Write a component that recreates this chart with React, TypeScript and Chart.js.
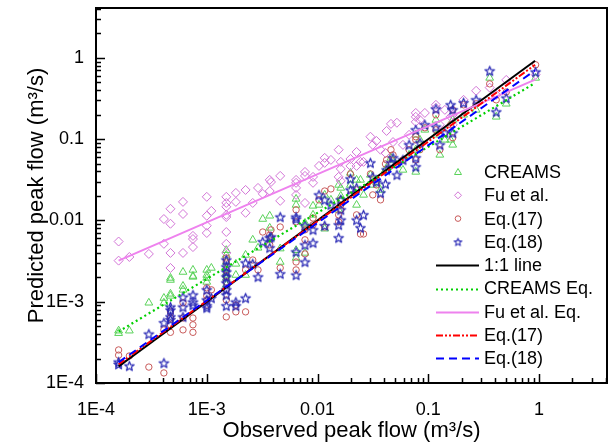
import React, { useEffect, useRef } from 'react';
import { Chart, registerables } from 'chart.js';

Chart.register(...registerables);

// Observed peak flow (m3/s) shared by the four predicted series
const observed = [
  1.6e-4, 1.6e-4, 2.0e-4, 3.0e-4, 4.1e-4, 4.1e-4, 4.7e-4, 4.7e-4, 4.7e-4, 4.7e-4,
  6.1e-4, 6.1e-4, 6.1e-4, 7.5e-4, 7.5e-4, 7.5e-4, 1.0e-3, 1.0e-3, 1.0e-3, 1.0e-3,
  1.1e-3, 1.5e-3, 1.5e-3, 1.5e-3, 1.5e-3, 1.5e-3, 1.5e-3, 1.5e-3, 1.5e-3, 1.83e-3,
  1.83e-3, 2.24e-3, 2.24e-3, 2.6e-3, 2.9e-3, 3.2e-3, 3.7e-3, 3.7e-3, 3.8e-3, 4.6e-3,
  4.6e-3, 6.4e-3, 6.4e-3, 6.4e-3, 6.4e-3, 7.7e-3, 7.7e-3, 7.7e-3, 9.1e-3, 9.1e-3,
  1.03e-2, 1.16e-2, 1.16e-2, 1.32e-2, 1.55e-2, 1.55e-2, 1.62e-2, 1.62e-2, 1.62e-2, 1.98e-2,
  1.98e-2, 2.25e-2, 2.25e-2, 2.44e-2, 2.6e-2, 3.0e-2, 3.15e-2, 3.4e-2, 3.7e-2, 4.1e-2,
  4.2e-2, 4.6e-2, 4.8e-2, 5.2e-2, 5.9e-2, 6.7e-2, 7.7e-2, 7.7e-2, 7.7e-2, 8.4e-2,
  9.3e-2, 0.117, 0.117, 0.127, 0.141, 0.159, 0.166, 0.166, 0.208, 0.27,
  0.358, 0.41, 0.505, 0.93,
];

const creams = [
  4.4e-4, 4.1e-4, 4.4e-4, 9.7e-4, 9.7e-4, 1.11e-3, 1.25e-3, 1.85e-3, 1.96e-3, 1.18e-3,
  1.56e-3, 2.32e-3, 1.4e-3, 2.46e-3, 2.02e-3, 2.07e-3, 1.96e-3, 1.75e-3, 2.46e-3, 2.13e-3,
  2.6e-3, 4.3e-3, 3.76e-3, 3.08e-3, 2.6e-3, 2.26e-3, 2.13e-3, 1.96e-3, 1.61e-3, 2.92e-3,
  2.13e-3, 3.76e-3, 2.13e-3, 5.77e-3, 4.6e-3, 1.04e-2, 1.14e-2, 8.1e-3, 6.1e-3, 4.5e-3,
  3.08e-3, 1.84e-2, 3.45e-3, 4.3e-3, 1.55e-2, 9.3e-3, 3.98e-3, 8.8e-3, 1.51e-2, 1.17e-2,
  1.55e-2, 7.9e-3, 2.06e-2, 1.79e-2, 2.73e-2, 1.35e-2, 2.51e-2, 2.0e-2, 1.79e-2, 3.84e-2,
  2.73e-2, 1.55e-2, 3.15e-2, 3.15e-2, 2.06e-2, 3.63e-2, 2.73e-2, 2.97e-2, 2.37e-2, 4.18e-2,
  4.43e-2, 5.88e-2, 5.55e-2, 4.83e-2, 4.18e-2, 6.4e-2, 3.95e-2, 7.4e-2, 0.113, 9.8e-2,
  0.13, 0.172, 0.113, 6.4e-2, 9.8e-2, 9.8e-2, 0.172, 8.5e-2, 0.199, 0.229,
  0.566, 0.188, 0.272, 0.566,
];

const fuEtAl = [
  5.5e-3, 3.2e-3, 3.55e-3, 3.87e-3, 1.04e-2, 5.15e-3, 1.39e-2, 9.1e-3, 3.98e-3, 2.6e-3,
  1.69e-2, 1.2e-2, 3.98e-3, 6.45e-3, 5.9e-3, 4.7e-3, 1.95e-2, 1.14e-2, 8.6e-3, 7.0e-3,
  1.31e-2, 1.95e-2, 1.64e-2, 1.47e-2, 1.17e-2, 1.1e-2, 7.2e-3, 5.15e-3, 3.98e-3, 2.18e-2,
  1.69e-2, 2.37e-2, 1.24e-2, 1.64e-2, 2.51e-2, 2.12e-2, 3.15e-2, 2.3e-2, 2.97e-2, 3.53e-2,
  1.74e-2, 3.15e-2, 2.51e-2, 2.06e-2, 2.9e-2, 3.95e-2, 3.53e-2, 1.64e-2, 3.43e-2, 2.9e-2,
  4.68e-2, 5.88e-2, 5.1e-2, 5.55e-2, 7.4e-2, 3.43e-2, 5.25e-2, 4.3e-2, 3.06e-2, 5.7e-2,
  4.68e-2, 4.68e-2, 6.95e-2, 5.25e-2, 5.25e-2, 0.107, 8.5e-2, 9.5e-2, 7.4e-2, 6.75e-2,
  0.126, 0.154, 9.2e-2, 0.159, 8.5e-2, 0.113, 0.21, 0.163, 0.188, 0.172,
  0.21, 0.264, 0.242, 0.15, 0.229, 0.188, 0.199, 0.15, 0.304, 0.393,
  0.43, 0.35, 0.535, 0.62,
];

const eq17 = [
  2.2e-4, 2.55e-4, 2.15e-4, 1.57e-4, 1.33e-4, 4.5e-4, 6.3e-4, 5.2e-4, 7.5e-4, 4.2e-4,
  9.7e-4, 6.3e-4, 4.5e-4, 6.3e-4, 5.2e-4, 4.2e-4, 1.48e-3, 1.18e-3, 1.05e-3, 9.1e-4,
  1.4e-3, 3.45e-3, 3.08e-3, 2.46e-3, 2.07e-3, 1.75e-3, 1.4e-3, 1.05e-3, 6.5e-4, 7.5e-4,
  9.1e-4, 7.5e-4, 2.46e-3, 3.26e-3, 2.46e-3, 7.2e-3, 6.6e-3, 5.0e-3, 7.65e-3, 8.3e-3,
  2.6e-3, 1.35e-2, 2.46e-3, 3.08e-3, 9.6e-3, 5.77e-3, 3.87e-3, 7.65e-3, 1.07e-2, 8.8e-3,
  1.79e-2, 2.3e-2, 8.3e-3, 2.44e-2, 1.17e-2, 9.6e-3, 1.79e-2, 1.55e-2, 1.35e-2, 3.73e-2,
  2.06e-2, 1.17e-2, 2.37e-2, 6.8e-3, 6.8e-3, 3.73e-2, 2.06e-2, 2.73e-2, 1.79e-2, 4.95e-2,
  5.55e-2, 7.4e-2, 6.4e-2, 4.83e-2, 5.55e-2, 7.4e-2, 0.107, 5.55e-2, 9.8e-2, 7.4e-2,
  0.138, 0.199, 0.13, 7.4e-2, 0.119, 0.15, 0.229, 0.104, 0.264, 0.272,
  0.478, 0.304, 0.38, 0.82,
];

const eq18 = [
  1.7e-4, 1.81e-4, 1.62e-4, 4.0e-4, 1.76e-4, 5.5e-4, 8.6e-4, 6.5e-4, 7.9e-4, 6.0e-4,
  1.14e-3, 8.6e-4, 6.5e-4, 1.21e-3, 9.9e-4, 9.1e-4, 8.9e-4, 8.4e-4, 1.4e-3, 1.05e-3,
  1.11e-3, 3.26e-3, 2.68e-3, 2.32e-3, 2.02e-3, 1.7e-3, 1.4e-3, 8.9e-4, 1.21e-3, 9.9e-4,
  8.9e-4, 1.11e-3, 3.0e-3, 2.92e-3, 2.02e-3, 5.46e-3, 6.1e-3, 4.6e-3, 6.27e-3, 1.1e-2,
  2.2e-3, 1.1e-2, 4.1e-3, 2.13e-3, 1.04e-2, 3.08e-3, 5.0e-3, 8.6e-3, 5.3e-3, 7.65e-3,
  2.06e-2, 1.79e-2, 8.6e-3, 1.55e-2, 6.1e-3, 8.8e-3, 1.79e-2, 1.35e-2, 1.01e-2, 3.24e-2,
  2.37e-2, 1.01e-2, 2.51e-2, 8.1e-3, 1.17e-2, 5.1e-2, 3.43e-2, 2.97e-2, 2.18e-2, 2.81e-2,
  4.18e-2, 5.1e-2, 5.88e-2, 3.63e-2, 5.55e-2, 8.5e-2, 5.88e-2, 4.56e-2, 0.13, 9.0e-2,
  0.15, 0.235, 0.141, 8.5e-2, 0.119, 0.264, 0.229, 0.119, 0.28, 0.304,
  0.69, 0.216, 0.32, 0.67,
];

// Fitted lines: end points (observed, predicted)
const lineX = [1.6e-4, 0.92];
const oneToOneY = [1.6e-4, 0.92];
const creamsEqY = [4.3e-4, 0.49];
const fuEqY = [3.2e-3, 0.54];
const eq17LineY = [1.7e-4, 0.82];
const eq18LineY = [1.8e-4, 0.7];

// Axes
const axisMin = 1e-4;
const axisMax = 4.1;
const majorTicks = [1e-4, 1e-3, 0.01, 0.1, 1];
const majorLabels = ['1E-4', '1E-3', '0.01', '0.1', '1'];
const xTitle = 'Observed peak flow (m\u00B3/s)';
const yTitle = 'Predicted peak flow (m\u00B3/s)';

const legendLabels = [
  'CREAMS', 'Fu et al.', 'Eq.(17)', 'Eq.(18)',
  '1:1 line', 'CREAMS Eq.', 'Fu et al. Eq.', 'Eq.(17)', 'Eq.(18)',
];

const FONT = '"Liberation Sans", Arial, Helvetica, sans-serif';
const creamsColor = '#5ad25a';
const fuColor = '#d274d6';
const eq17Color = '#c85a5a';
const eq18Color = '#2626b4';
const lineStyles = [
  { color: '#000000', dash: [] as number[], width: 2 },
  { color: '#00d000', dash: [2, 3], width: 2.2 },
  { color: '#ee82ee', dash: [] as number[], width: 2 },
  { color: '#ff0000', dash: [7, 2, 2, 2, 2, 2], width: 2 },
  { color: '#0000ff', dash: [8, 5], width: 2 },
];

function makeStar(color: string, outer: number, inner: number, lw: number): HTMLCanvasElement {
  const size = Math.ceil(outer * 2 + 3);
  const s = document.createElement('canvas');
  s.width = size;
  s.height = size;
  const c = s.getContext('2d')!;
  c.strokeStyle = color;
  c.lineWidth = lw;
  c.lineJoin = 'round';
  c.beginPath();
  for (let k = 0; k < 10; k++) {
    const r = k % 2 === 0 ? outer : inner;
    const a = -Math.PI / 2 + (k * Math.PI) / 5;
    const px = size / 2 + r * Math.cos(a);
    const py = size / 2 + 0.4 + r * Math.sin(a);
    if (k === 0) c.moveTo(px, py);
    else c.lineTo(px, py);
  }
  c.closePath();
  c.stroke();
  return s;
}

function isMajor(v: number) {
  return majorTicks.findIndex((m) => Math.abs(m - v) / m < 1e-6);
}

function buildLogTicks(scale: any) {
  const t: { value: number }[] = [];
  for (let e = -4; e <= 0; e++) {
    for (let m = 1; m <= 9; m++) {
      const v = m * Math.pow(10, e);
      if (v >= axisMin * 0.9999 && v <= axisMax * 1.0001) t.push({ value: v });
    }
  }
  scale.ticks = t;
}

export default function App() {
  const ref = useRef<HTMLCanvasElement>(null);

  useEffect(() => {
    const canvas = ref.current!;
    const star = makeStar(eq18Color, 5, 2.1, 1.2);
    const legendStar = makeStar(eq18Color, 4, 1.7, 1.1);

    const pts = (ys: number[]) => observed.map((x, i) => ({ x, y: ys[i] }));
    const seg = (ys: number[]) => lineX.map((x, i) => ({ x, y: ys[i] }));

    const decor = {
      id: 'decor',
      afterDraw(chart: any) {
        const { ctx, chartArea } = chart;
        const { left, right, top, bottom } = chartArea;
        const xs = chart.scales.x;
        const ys = chart.scales.y;
        ctx.save();
        ctx.strokeStyle = '#000';
        ctx.lineWidth = 1.5;
        ctx.beginPath();
        xs.ticks.forEach((t: any) => {
          const px = Math.round(xs.getPixelForValue(t.value)) + 0.5;
          const len = isMajor(t.value) >= 0 ? 9 : 5;
          ctx.moveTo(px, bottom);
          ctx.lineTo(px, bottom - len);
        });
        ys.ticks.forEach((t: any) => {
          const py = Math.round(ys.getPixelForValue(t.value)) + 0.5;
          const len = isMajor(t.value) >= 0 ? 9 : 5;
          ctx.moveTo(left, py);
          ctx.lineTo(left + len, py);
        });
        ctx.stroke();
        ctx.lineWidth = 2;
        ctx.strokeRect(left, top, right - left, bottom - top);

        // legend
        const textX = right - 123;
        const symX = right - 149;
        const l1 = right - 171;
        const l2 = right - 128;
        const y0 = bottom - 211;
        const dy = 23.3;
        ctx.font = '18px ' + FONT;
        ctx.textBaseline = 'middle';
        ctx.textAlign = 'left';
        ctx.fillStyle = '#000';
        legendLabels.forEach((lab, i) => ctx.fillText(lab, textX, y0 + i * dy + 1));

        ctx.lineWidth = 1;
        // triangle
        let cy = y0;
        ctx.strokeStyle = creamsColor;
        ctx.beginPath();
        ctx.moveTo(symX, cy - 3.5);
        ctx.lineTo(symX + 3.5, cy + 2.5);
        ctx.lineTo(symX - 3.5, cy + 2.5);
        ctx.closePath();
        ctx.stroke();
        // diamond
        cy = y0 + dy;
        ctx.strokeStyle = fuColor;
        ctx.beginPath();
        ctx.moveTo(symX, cy - 3.5);
        ctx.lineTo(symX + 3.5, cy);
        ctx.lineTo(symX, cy + 3.5);
        ctx.lineTo(symX - 3.5, cy);
        ctx.closePath();
        ctx.stroke();
        // circle
        cy = y0 + 2 * dy;
        ctx.strokeStyle = eq17Color;
        ctx.beginPath();
        ctx.arc(symX, cy, 2.8, 0, Math.PI * 2);
        ctx.stroke();
        // star
        cy = y0 + 3 * dy;
        ctx.drawImage(legendStar, symX - legendStar.width / 2, cy - legendStar.height / 2);
        // lines
        lineStyles.forEach((st, k) => {
          const yy = Math.round(y0 + (4 + k) * dy) + 0.5;
          ctx.strokeStyle = st.color;
          ctx.lineWidth = st.width;
          ctx.setLineDash(st.dash);
          ctx.beginPath();
          ctx.moveTo(l1, yy);
          ctx.lineTo(l2, yy);
          ctx.stroke();
        });
        ctx.setLineDash([]);
        ctx.restore();
      },
    };

    const lineDs = (ys: number[], k: number, order: number) => ({
      data: seg(ys),
      showLine: true,
      borderColor: lineStyles[k].color,
      borderWidth: lineStyles[k].width,
      borderDash: lineStyles[k].dash,
      pointRadius: 0,
      fill: false,
      order,
    });

    const scaleTicks = {
      autoSkip: false,
      maxRotation: 0,
      minRotation: 0,
      color: '#000',
      font: { family: FONT, size: 18 },
      callback: (v: any) => {
        const i = isMajor(Number(v));
        return i >= 0 ? majorLabels[i] : '';
      },
    };

    const zeroPad = (s: any) => {
      s.paddingTop = 0;
      s.paddingBottom = 0;
      s.paddingLeft = 0;
      s.paddingRight = 0;
    };

    const chart = new Chart(canvas, {
      type: 'scatter',
      data: {
        datasets: [
          lineDs(oneToOneY, 0, 4),
          lineDs(creamsEqY, 1, 3),
          lineDs(fuEqY, 2, 2),
          lineDs(eq17LineY, 3, 1),
          lineDs(eq18LineY, 4, 0),
          {
            data: pts(eq18),
            pointStyle: star,
            pointRadius: 5,
            borderColor: eq18Color,
            backgroundColor: 'rgba(0,0,0,0)',
            order: 5,
          } as any,
          {
            data: pts(eq17),
            pointStyle: 'circle',
            pointRadius: 3.2,
            borderWidth: 1,
            borderColor: eq17Color,
            backgroundColor: 'rgba(0,0,0,0)',
            order: 6,
          },
          {
            data: pts(fuEtAl),
            pointStyle: 'rectRot',
            pointRadius: 4.5,
            borderWidth: 1,
            borderColor: fuColor,
            backgroundColor: 'rgba(0,0,0,0)',
            order: 7,
          },
          {
            data: pts(creams),
            pointStyle: 'triangle',
            pointRadius: 4.5,
            borderWidth: 1,
            borderColor: creamsColor,
            backgroundColor: 'rgba(0,0,0,0)',
            order: 8,
          },
        ],
      },
      options: {
        animation: false,
        responsive: false,
        devicePixelRatio: 1,
        events: [],
        layout: { padding: { top: 8, right: 2, left: 0, bottom: 0 } },
        plugins: {
          legend: { display: false },
          tooltip: { enabled: false },
        },
        scales: {
          x: {
            type: 'logarithmic',
            min: axisMin,
            max: axisMax,
            border: { display: false },
            grid: { display: false, drawTicks: false, tickLength: 0 },
            ticks: { ...scaleTicks, padding: 16 },
            afterBuildTicks: buildLogTicks,
            afterFit: (s: any) => { s.height = 62; zeroPad(s); },
            title: {
              display: true,
              text: xTitle,
              color: '#000',
              font: { family: FONT, size: 22 },
              padding: { top: 0, bottom: 1 },
            },
          },
          y: {
            type: 'logarithmic',
            min: axisMin,
            max: axisMax,
            border: { display: false },
            grid: { display: false, drawTicks: false, tickLength: 0 },
            ticks: { ...scaleTicks, padding: 12 },
            afterBuildTicks: buildLogTicks,
            afterFit: (s: any) => { s.width = 96; zeroPad(s); },
            title: {
              display: true,
              text: yTitle,
              color: '#000',
              font: { family: FONT, size: 22 },
              padding: { top: 24, bottom: 0 },
            },
          },
        },
      } as any,
      plugins: [decor],
    });

    return () => chart.destroy();
  }, []);

  return (
    <div style={{ position: 'fixed', left: 0, top: 0, width: 613, height: 445, background: '#fff' }}>
      <canvas ref={ref} width={613} height={445} style={{ width: 613, height: 445, display: 'block' }} />
    </div>
  );
}
